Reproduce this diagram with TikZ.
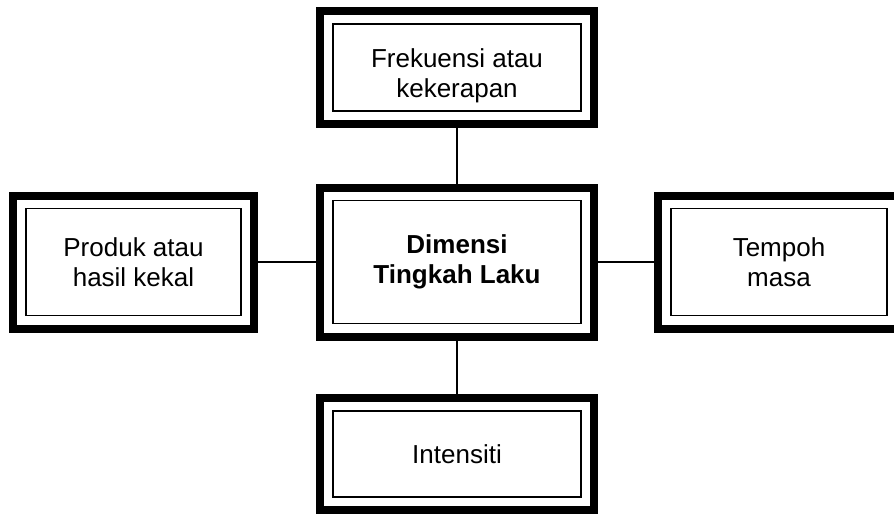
\documentclass[tikz,border=0pt]{standalone}
\usepackage{fontspec}
\setmainfont{Liberation Sans}
\usepackage{tikz}

\begin{document}
\begin{tikzpicture}[
    x=1pt, y=-1pt,
    box/.style={rectangle, draw, line width=8pt, minimum width=274pt, minimum height=113pt, align=center, font=\fontsize{26}{30}\selectfont,
        path picture={\draw[line width=1.5pt] ([shift={(13pt,-13pt)}]path picture bounding box.north west) rectangle ([shift={(-13pt,13pt)}]path picture bounding box.south east);}},
    link/.style={line width=1.5pt}
]
    \path[use as bounding box, fill=white] (0,0) rectangle (894,514);

    % Centre
    \node[box, minimum height=149pt, font=\fontsize{26}{30}\selectfont\bfseries] (dimensi) at (457,262) {Dimensi\\Tingkah Laku};

    % Four dimensions
    \node[box] (frekuensi) at (457,67.5) {\rule{0pt}{35pt}Frekuensi atau\\kekerapan};
    \node[box, minimum width=241pt, minimum height=133pt] (produk) at (133.5,262) {Produk atau\\hasil kekal};
    \node[box, minimum width=242pt, minimum height=133pt] (tempoh) at (779,262) {Tempoh\\masa};
    \node[box, minimum height=112pt] (intensiti) at (457,454) {Intensiti};

    % Links
    \draw[link] (frekuensi) -- (dimensi);
    \draw[link] (produk) -- (dimensi);
    \draw[link] (dimensi) -- (tempoh);
    \draw[link] (dimensi) -- (intensiti);
\end{tikzpicture}
\end{document}
